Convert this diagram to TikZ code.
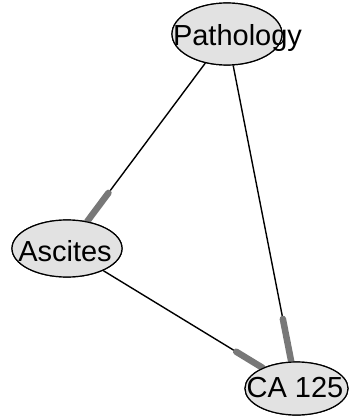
\documentclass[tikz,border=0pt]{standalone}
\usepackage{fontspec}
\setmainfont{Liberation Sans}
\usetikzlibrary{shapes.geometric}
\definecolor{nodefill}{RGB}{226,226,226}
\definecolor{stubgray}{RGB}{120,120,120}
\tikzset{
  nodeell/.style={ellipse, draw=black, line width=1.2pt, fill=nodefill, inner sep=0pt},
  lab/.style={inner sep=0pt, anchor=base, font=\fontsize{29}{29}\selectfont},
  edge/.style={draw=black, line width=1.4pt},
  stub/.style={draw=stubgray, line width=6.5pt, line cap=round}
}
\begin{document}
\begin{tikzpicture}[x=1pt, y=-1pt]
\useasboundingbox (0,0) rectangle (350,417);
% nodes
\node[nodeell, minimum width=110pt, minimum height=62pt] (P) at (227,34) {};
\node[nodeell, minimum width=110pt, minimum height=57pt] (A) at (67,248.5) {};
\node[nodeell, minimum width=103pt, minimum height=53pt] (C) at (296.5,388.5) {};
% edges
\draw[edge] (P) -- (A) coordinate[pos=0.82] (pa);
\draw[edge] (P) -- (C) coordinate[pos=0.856] (pc);
\draw[edge] (A) -- (C) coordinate[pos=0.834] (ac);
\draw[stub] (pa) -- (A);
\draw[stub] (pc) -- (C);
\draw[stub] (ac) -- (C);
% redraw node borders over stubs
\node[nodeell, minimum width=110pt, minimum height=62pt] (P2) at (227,34) {};
\node[nodeell, minimum width=110pt, minimum height=57pt] (A2) at (67,248.5) {};
\node[nodeell, minimum width=103pt, minimum height=53pt] (C2) at (296.5,388.5) {};
% labels
\node[lab] (Pl) at (237.5,45.5) {Pathology};
\node[lab] (Al) at (65,261.5) {Ascites};
\node[lab] (Cl) at (295,397) {CA 125};
\end{tikzpicture}
\end{document}
